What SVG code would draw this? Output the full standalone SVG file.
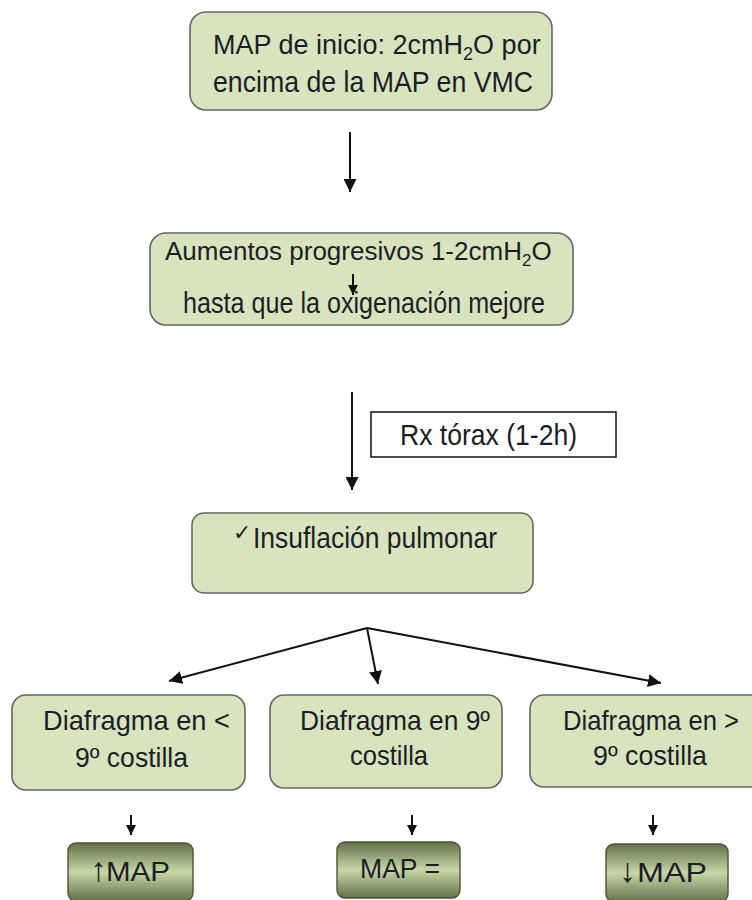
<svg xmlns="http://www.w3.org/2000/svg" width="752" height="900" viewBox="0 0 752 900">
<style>
.box{fill:#d7e4bd;stroke:#666;stroke-width:1.6}
.res{fill:url(#g);stroke:#4a5535;stroke-width:1.4}
text{font-family:"Liberation Sans",Arial,sans-serif;font-size:29px;fill:#1d1d28}
.md{font-size:28px}
.sm{font-size:27px}
.ln{stroke:#111;stroke-width:2;fill:none}
</style>
<defs>
<linearGradient id="g" x1="0" y1="0" x2="0" y2="1">
<stop offset="0" stop-color="#627148"/>
<stop offset="0.5" stop-color="#c7d7a7"/>
<stop offset="1" stop-color="#627148"/>
</linearGradient>
<marker id="ah" viewBox="0 0 10 10" refX="10" refY="5" markerWidth="13" markerHeight="13" markerUnits="userSpaceOnUse" orient="auto">
<path d="M0,0 L10,5 L0,10 Z" fill="#111"/>
</marker>
<marker id="as" viewBox="0 0 10 10" refX="10" refY="5" markerWidth="10" markerHeight="10" markerUnits="userSpaceOnUse" orient="auto">
<path d="M0,0 L10,5 L0,10 Z" fill="#111"/>
</marker>
</defs>

<g id="n1">
<rect class="box" x="190" y="12" width="362" height="98" rx="16"/>
<text x="213" y="54" style="font-size:27px">MAP de inicio: 2cmH<tspan style="font-size:18px" dy="6">2</tspan><tspan dy="-6">O por</tspan></text>
<text x="213" y="92" textLength="320" lengthAdjust="spacingAndGlyphs">encima de la MAP en VMC</text>
</g>

<g id="n2">
<rect class="box" x="150" y="233" width="423" height="92" rx="16"/>
<text x="165" y="260" style="font-size:26px">Aumentos progresivos 1-2cmH<tspan style="font-size:17px" dy="6">2</tspan><tspan dy="-6">O</tspan></text>
<line class="ln" x1="353" y1="274" x2="353" y2="295" marker-end="url(#as)"/>
<text x="183" y="313" textLength="362" lengthAdjust="spacingAndGlyphs">hasta que la oxigenación mejore</text>
</g>

<g id="rx">
<rect x="371" y="412" width="245" height="45" fill="#fff" stroke="#111" stroke-width="1.5"/>
<text x="400" y="445" textLength="177" lengthAdjust="spacingAndGlyphs">Rx tórax (1-2h)</text>
</g>

<g id="n3">
<rect class="box" x="192" y="513" width="341" height="80" rx="12"/>
<text x="233" y="540" style="font-family:'DejaVu Sans',sans-serif;font-size:22px">✓</text>
<text x="253" y="548" textLength="244" lengthAdjust="spacingAndGlyphs">Insuflación pulmonar</text>
</g>

<g id="a">
<rect class="box" x="12" y="695" width="233" height="95" rx="14"/>
<text class="md" x="43" y="730" textLength="187" lengthAdjust="spacingAndGlyphs">Diafragma en &lt;</text>
<text class="md" x="75" y="767" textLength="113" lengthAdjust="spacingAndGlyphs">9º costilla</text>
</g>
<g id="b">
<rect class="box" x="270" y="695" width="232" height="93" rx="14"/>
<text class="md" x="300" y="730" textLength="190" lengthAdjust="spacingAndGlyphs">Diafragma en 9º</text>
<text class="md" x="350" y="765" textLength="78" lengthAdjust="spacingAndGlyphs">costilla</text>
</g>
<g id="c">
<rect class="box" x="530" y="695" width="240" height="92" rx="14"/>
<text class="md" x="563" y="730" textLength="176" lengthAdjust="spacingAndGlyphs">Diafragma en &gt;</text>
<text class="md" x="593" y="765" textLength="114" lengthAdjust="spacingAndGlyphs">9º costilla</text>
</g>

<g id="ra">
<rect class="res" x="68" y="843" width="125" height="58" rx="8"/>
<text x="90" y="881" style="font-size:34px">↑</text>
<text class="sm" x="106" y="881" textLength="64" lengthAdjust="spacingAndGlyphs">MAP</text>
</g>
<g id="rb">
<rect class="res" x="337" y="842" width="123" height="56" rx="8"/>
<text class="sm" x="360" y="878" textLength="80" lengthAdjust="spacingAndGlyphs">MAP =</text>
</g>
<g id="rc">
<rect class="res" x="606" y="844" width="122" height="58" rx="8"/>
<text x="619" y="882" style="font-size:34px">↓</text>
<text class="sm" x="637" y="882" textLength="70" lengthAdjust="spacingAndGlyphs">MAP</text>
</g>

<g id="connectors">
<line class="ln" x1="350" y1="132" x2="350" y2="192" marker-end="url(#ah)"/>
<line class="ln" x1="352" y1="392" x2="352" y2="490" marker-end="url(#ah)"/>
<line class="ln" x1="367" y1="628" x2="169" y2="681" marker-end="url(#ah)"/>
<line class="ln" x1="367" y1="628" x2="378" y2="684" marker-end="url(#ah)"/>
<line class="ln" x1="367" y1="628" x2="661" y2="683" marker-end="url(#ah)"/>
<line class="ln" x1="131" y1="815" x2="131" y2="835" marker-end="url(#as)"/>
<line class="ln" x1="412" y1="815" x2="412" y2="835" marker-end="url(#as)"/>
<line class="ln" x1="653" y1="815" x2="653" y2="835" marker-end="url(#as)"/>
</g>
</svg>
